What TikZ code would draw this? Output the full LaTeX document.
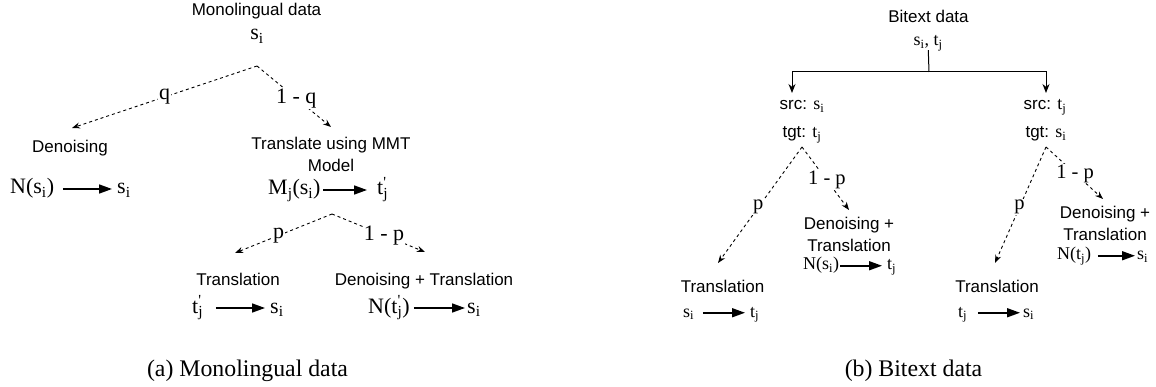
\documentclass[tikz,border=0pt]{standalone}
\usepackage{fontspec}
\setmainfont{Liberation Serif}
\setsansfont{Liberation Sans}
\usetikzlibrary{arrows.meta}
\newcommand{\ix}[2]{#1\textsubscript{#2}}
\newcommand{\tjp}{t\rlap{\textsuperscript{\textquotesingle}}\textsubscript{j}}
\newcommand{\rmv}[1]{{\rmfamily\fontsize{18}{22}\selectfont #1}}

\begin{document}
\begin{tikzpicture}[x=1pt,y=-1pt,
  txt/.style={font=\sffamily\fontsize{17}{22.5}\selectfont, align=center, inner sep=0pt, anchor=base},
  bigmath/.style={font=\fontsize{22}{26}\selectfont, inner sep=0pt, text height=15pt, text depth=5pt, anchor=base west},
  smallmath/.style={font=\fontsize{18}{22}\selectfont, inner sep=0pt, text height=12.5pt, text depth=4pt, anchor=base west},
  prob/.style={font=\fontsize{22}{26}\selectfont, fill=white, inner sep=1pt},
  smallprob/.style={prob, font=\fontsize{20.5}{24}\selectfont},
  branch/.style={dash pattern=on 3pt off 3pt, line width=0.9pt, -{Stealth[length=8pt,width=6pt]}},
  yields/.style={line width=1.7pt, -{Triangle[length=13pt,width=9pt]}},
  split/.style={line width=1pt, -{Stealth[length=9pt,width=7pt]}},
  subcap/.style={font=\fontsize{23.8}{28}\selectfont, inner sep=0pt, anchor=base}]
  \useasboundingbox (0,0) rectangle (1156,387);

  \node[txt] (mono) at (256.5,16) {Monolingual data};
  \node[bigmath, anchor=base] (msrc) at (257,40) {\ix{s}{i}};
  \coordinate (qa) at (257,66);
  \coordinate (qd) at (72,128);
  \coordinate (qt) at (331,127);
  \draw[branch] (qa) -- node[prob, pos=0.5] {q} (qd);
  \draw[branch] (qa) -- node[prob, pos=0.53] {1 - q} (qt);

  \node[txt] (deno) at (70,153) {Denoising};
  \node[bigmath] (nsi) at (10,194) {N(\ix{s}{i})};
  \node[bigmath] (sia) at (117,194) {\ix{s}{i}};
  \draw[yields, shorten <=8.6pt, shorten >=5pt] (nsi) -- (sia);

  \node[txt] (trans) at (331,172) {Translate using MMT\\Model};
  \node[bigmath] (mjs) at (268,195) {\ix{M}{j}(\ix{s}{i})};
  \node[bigmath] (tjp) at (377,195) {\tjp};
  \draw[yields, shorten <=2.6pt, shorten >=10pt] (mjs) -- (tjp);

  \coordinate (pa) at (332,214);
  \coordinate (pd) at (235,253);
  \coordinate (pt) at (425,252);
  \draw[branch] (pa) -- node[prob, pos=0.55] {p} (pd);
  \draw[branch] (pa) -- node[prob, pos=0.56] {1 - p} (pt);

  \node[txt] (tra) at (238,285) {Translation};
  \node[bigmath] (tjq) at (192,313) {\tjp};
  \node[bigmath] (sib) at (270,313) {\ix{s}{i}};
  \draw[yields, shorten <=12.5pt, shorten >=5pt] (tjq) -- (sib);

  \node[txt] (dtr) at (424,285) {Denoising + Translation};
  \node[bigmath] (ntj) at (368,313) {N(\tjp)};
  \node[bigmath] (sic) at (467,313) {\ix{s}{i}};
  \draw[yields, shorten <=4pt, shorten >=2pt] (ntj) -- (sic);

  \node[subcap] (capa) at (247.5,376) {(a) Monolingual data};

  \node[txt] (bitext) at (928.5,23) {Bitext data};
  \node[smallmath, anchor=base] (pair) at (928,46) {\ix{s}{i}, \ix{t}{j}};
  \coordinate (fork) at (929,72);
  \coordinate (forkl) at (792,93);
  \coordinate (forkr) at (1046,93);
  \draw[line width=1pt] (pair) -- (fork);
  \draw[split] (fork) -| (forkl);
  \draw[split] (fork) -| (forkr);

  \node[txt] (srcl) at (802,110) {src: \rmv{\ix{s}{i}}};
  \node[txt] (tgtl) at (802,138) {tgt: \rmv{\ix{t}{j}}};
  \node[txt] (srcr) at (1045,110) {src: \rmv{\ix{t}{j}}};
  \node[txt] (tgtr) at (1046,138) {tgt: \rmv{\ix{s}{i}}};

  \coordinate (la) at (802,147);
  \coordinate (ld) at (718,263);
  \coordinate (lt) at (849,210);
  \draw[branch] (la) -- node[smallprob, pos=0.52] {p} (ld);
  \draw[branch] (la) -- node[smallprob, pos=0.53] {1 - p} (lt);

  \node[txt] (dtl) at (849,252) {Denoising +\\Translation};
  \node[smallmath] (nsr) at (803,270) {N(\ix{s}{i})};
  \node[smallmath] (tjr) at (887,270) {\ix{t}{j}};
  \draw[yields, shorten <=1pt, shorten >=5pt] (nsr) -- (tjr);

  \node[txt] (trl) at (722.5,293) {Translation};
  \node[smallmath] (sir) at (683,317) {\ix{s}{i}};
  \node[smallmath] (tjs) at (750,317) {\ix{t}{j}};
  \draw[yields, shorten <=8.5pt, shorten >=5pt] (sir) -- (tjs);

  \coordinate (ra) at (1046,147);
  \coordinate (rd) at (995,263);
  \coordinate (rt) at (1103,199);
  \draw[branch] (ra) -- node[smallprob, pos=0.52] {p} (rd);
  \draw[branch] (ra) -- node[smallprob, pos=0.51] {1 - p} (rt);

  \node[txt] (dtr2) at (1105,241) {Denoising +\\Translation};
  \node[smallmath] (ntr) at (1057,260) {N(\ix{t}{j})};
  \node[smallmath] (sis) at (1137,260) {\ix{s}{i}};
  \draw[yields, shorten <=6.5pt, shorten >=2pt] (ntr) -- (sis);

  \node[txt] (trr) at (997,293) {Translation};
  \node[smallmath] (tjt) at (958,317) {\ix{t}{j}};
  \node[smallmath] (sit) at (1023,317) {\ix{s}{i}};
  \draw[yields, shorten <=10.5pt, shorten >=3pt] (tjt) -- (sit);

  \node[subcap] (capb) at (913.5,376) {(b) Bitext data};
\end{tikzpicture}
\end{document}
